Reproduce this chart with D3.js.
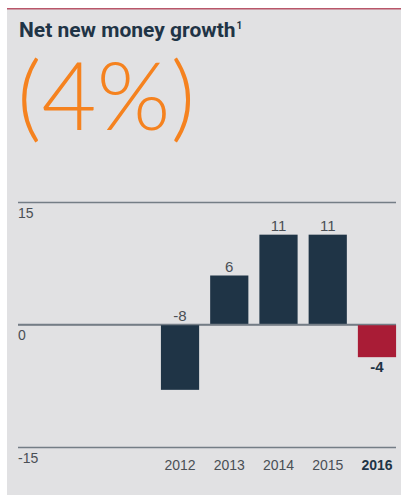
<!DOCTYPE html>
<html>
<head>
<meta charset="utf-8">
<script src="https://cdn.jsdelivr.net/npm/d3@7"></script>
<style>
body{margin:0;background:#fff;}
svg{display:block;}
.tick text{font-family:"Liberation Sans",Arial,sans-serif;}
</style>
</head>
<body>
<div id="chart"></div>
<script>
var years = ["2012","2013","2014","2015","2016"];
var growth = [-8,6,11,11,-4];
var yTicks = [-15,0,15];
var headline = "(4%)";

var W = 401, H = 495;
var navy = "#1f3446", red = "#a91c36", grid = "#747d86";

var svg = d3.select("#chart").append("svg")
  .attr("width",W).attr("height",H);

// panel
svg.append("rect").attr("x",7).attr("y",8).attr("width",W-7).attr("height",H-8).attr("fill","#e1e1e3");
svg.append("rect").attr("x",7).attr("y",8).attr("width",W-7).attr("height",1.5).attr("fill","#b9566a");

var title = svg.append("text")
  .attr("x",19).attr("y",37)
  .attr("fill",navy)
  .style("font-family","Roboto, 'Liberation Sans', sans-serif")
  .style("font-weight","bold")
  .style("font-size","21px")
  .text("Net new money growth");
var tw = title.node().getComputedTextLength();
svg.append("text")
  .attr("x",19+tw+1).attr("y",29)
  .attr("fill",navy)
  .style("font-family","Roboto, 'Liberation Sans', sans-serif")
  .style("font-weight","bold")
  .style("font-size","10px")
  .text("1");

svg.append("text")
  .attr("x",17).attr("y",130)
  .attr("fill","#f5821f")
  .style("font-family","Lato, 'Liberation Sans', sans-serif")
  .style("font-weight","300")
  .style("font-size","95px")
  .text(headline);

var x = d3.scaleBand().domain(years).range([156,401]).paddingInner(0.224).paddingOuter(0.1);
var y = d3.scaleLinear().domain([-15,15]).range([447,202]);

var left = 18, right = 396;

var yAxis = svg.append("g")
  .attr("transform","translate("+left+",0)")
  .call(d3.axisLeft(y).tickValues(yTicks).tickSize(-(right-left)).tickFormat(function(d){return String(d);}));
yAxis.select(".domain").remove();
yAxis.selectAll(".tick line").attr("stroke",grid).attr("stroke-width",1.5);
yAxis.selectAll(".tick text")
  .attr("x",0).attr("dy",null).attr("y",15)
  .attr("text-anchor","start")
  .attr("fill","#4a4f55")
  .style("font-size","14px");

svg.selectAll(".bar")
  .data(growth)
  .enter().append("rect")
  .attr("class","bar")
  .attr("x",function(d,i){return x(years[i]);})
  .attr("width",x.bandwidth())
  .attr("y",function(d){return y(Math.max(0,d));})
  .attr("height",function(d){return Math.abs(y(d)-y(0));})
  .attr("fill",function(d,i){return i==years.length-1?red:navy;});

// redraw zero line on top
svg.append("line").attr("x1",left).attr("x2",right).attr("y1",y(0)).attr("y2",y(0))
  .attr("stroke",grid).attr("stroke-width",1.5);

svg.selectAll(".val")
  .data(growth)
  .enter().append("text")
  .attr("class","val")
  .attr("x",function(d,i){return x(years[i])+x.bandwidth()/2;})
  .attr("y",function(d,i){
    if(i==years.length-1) return y(d)+15;
    return (d<0? y(0):y(d))-4;
  })
  .attr("text-anchor","middle")
  .attr("fill",function(d,i){return i==years.length-1?navy:"#4a4f55";})
  .style("font-family","'Liberation Sans', Arial, sans-serif")
  .style("font-weight",function(d,i){return i==years.length-1?"bold":"normal";})
  .style("font-size","15px")
  .text(function(d){return d;});

svg.selectAll(".yr")
  .data(years)
  .enter().append("text")
  .attr("class","yr")
  .attr("x",function(d){return x(d)+x.bandwidth()/2;})
  .attr("y",470)
  .attr("text-anchor","middle")
  .attr("fill",function(d,i){return i==years.length-1?navy:"#4a4f55";})
  .style("font-family","'Liberation Sans', Arial, sans-serif")
  .style("font-weight",function(d,i){return i==years.length-1?"bold":"normal";})
  .style("font-size","14px")
  .text(function(d){return d;});
</script>
</body>
</html>
